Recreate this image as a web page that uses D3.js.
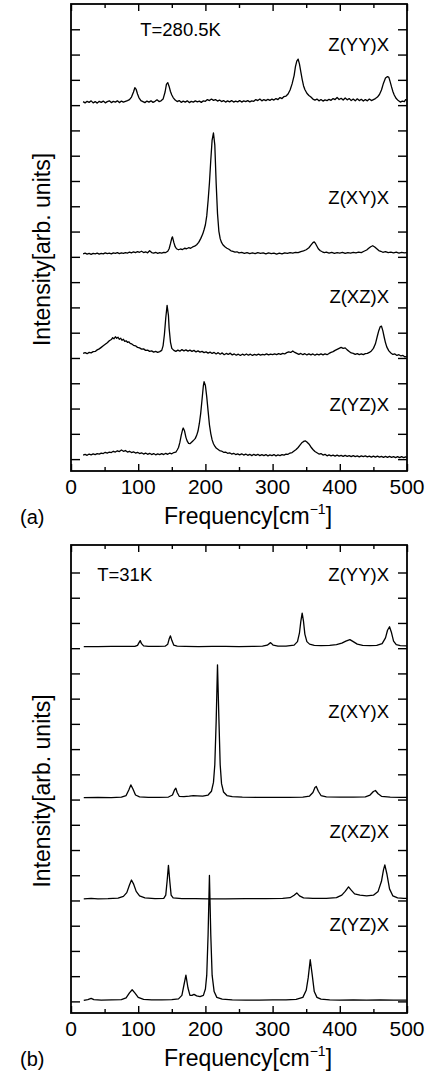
<!DOCTYPE html>
<html>
<head>
<meta charset="utf-8">
<script src="https://cdn.jsdelivr.net/npm/d3@7"></script>
<style>
  body { margin: 0; background: #fff; }
  text { font-family: "Liberation Sans", Arial, sans-serif; fill: #000; }
</style>
</head>
<body>
<svg id="chart" width="432" height="1076"></svg>
<script>
/* Polarisation labels, top to bottom */
const geometries = ['Z(YY)X', 'Z(XY)X', 'Z(XZ)X', 'Z(YZ)X'];
const temps = ['T=280.5K', 'T=31K'];
const panelTags = ['(a)', '(b)'];
const freqTicks = [0, 100, 200, 300, 400, 500];

/* Vertical shift of each trace, in tick units */
const offsets280 = [14.12, 8.12, 4.18, 0.16];
const offsets31 = [14.06, 8.08, 4.06, 0.04];

/* [frequency cm-1, intensity] (noisy) */
const yy280 = [[18,0.02],[21,-0.03],[24,0.03],[27,-0.01],[30,0.05],[33,-0.03],[36,0.02],[39,-0.04],[42,0.03],[45,-0.01],[48,0.04],[51,-0.03],[54,0.02],[57,0.05],[60,-0.02],[63,0.03],[66,0.0],[69,0.05],[72,-0.02],[75,0.04],[78,0.0],[81,0.03],[84,0.06],[87,0.1],[90,0.2],[93,0.4],[95,0.57],[97,0.5],[99,0.32],[101,0.18],[104,0.06],[107,0.02],[110,-0.02],[113,0.04],[116,0.0],[119,0.05],[122,-0.01],[125,0.03],[128,0.09],[131,0.02],[134,0.05],[137,0.12],[140,0.4],[142,0.7],[144,0.77],[146,0.62],[148,0.42],[150,0.28],[152,0.18],[155,0.08],[158,0.02],[161,0.06],[164,-0.01],[167,0.04],[170,0.0],[173,0.05],[176,-0.02],[179,0.03],[182,0.0],[185,0.05],[188,0.01],[191,0.04],[194,-0.01],[197,0.05],[200,0.03],[203,0.1],[206,0.06],[209,0.12],[212,0.07],[215,0.1],[218,0.04],[221,0.08],[224,0.02],[227,0.06],[230,0.0],[233,0.05],[236,0.01],[239,0.06],[242,0.0],[245,0.04],[248,0.01],[251,0.06],[254,0.0],[257,0.05],[260,0.02],[263,0.06],[266,0.01],[269,0.05],[272,0.03],[275,0.1],[278,0.06],[281,0.12],[284,0.05],[287,0.1],[290,0.06],[293,0.11],[296,0.07],[299,0.12],[302,0.08],[305,0.14],[308,0.1],[311,0.18],[314,0.14],[317,0.22],[320,0.24],[323,0.32],[326,0.48],[329,0.72],[332,1.05],[334,1.4],[336,1.62],[338,1.7],[340,1.5],[342,1.2],[344,0.9],[346,0.65],[348,0.5],[351,0.35],[354,0.26],[357,0.2],[360,0.12],[363,0.08],[366,0.12],[369,0.05],[372,0.1],[375,0.04],[378,0.09],[381,0.06],[384,0.11],[387,0.07],[390,0.14],[393,0.1],[396,0.18],[399,0.1],[402,0.15],[405,0.08],[408,0.16],[411,0.09],[414,0.14],[417,0.06],[420,0.12],[423,0.05],[426,0.13],[429,0.06],[432,0.11],[435,0.04],[438,0.1],[441,0.05],[444,0.12],[447,0.06],[450,0.1],[453,0.14],[456,0.2],[459,0.3],[462,0.48],[465,0.75],[468,0.95],[471,1.01],[473,0.98],[475,0.8],[477,0.6],[479,0.42],[481,0.28],[484,0.14],[487,0.06],[490,0.0],[493,0.04],[496,0.02],[498,0.1],[500,0.08]];
const xy280 = [[18,0.0],[21,0.03],[24,-0.01],[27,0.02],[30,-0.02],[33,0.02],[36,0.0],[39,0.03],[42,-0.01],[45,0.02],[48,0.0],[51,0.04],[54,0.01],[57,0.03],[60,0.0],[63,0.04],[66,0.02],[69,0.05],[72,0.01],[75,0.04],[78,0.02],[81,0.05],[84,0.03],[87,0.07],[90,0.04],[93,0.08],[96,0.05],[99,0.09],[102,0.06],[105,0.1],[108,0.05],[111,0.08],[114,0.04],[117,0.12],[120,0.05],[123,0.03],[126,0.06],[129,0.02],[132,0.05],[135,0.03],[138,0.06],[141,0.05],[144,0.1],[146,0.2],[148,0.4],[150,0.62],[151,0.67],[153,0.45],[155,0.28],[157,0.2],[160,0.16],[163,0.19],[166,0.17],[169,0.22],[172,0.2],[175,0.24],[178,0.22],[181,0.27],[184,0.3],[187,0.36],[190,0.45],[193,0.6],[196,0.78],[198,0.95],[200,1.15],[202,1.5],[204,2.1],[206,2.8],[208,3.7],[210,4.5],[212,4.78],[214,4.3],[216,2.8],[218,1.6],[220,0.9],[222,0.6],[224,0.45],[226,0.36],[229,0.28],[232,0.22],[235,0.18],[238,0.12],[241,0.1],[244,0.07],[247,0.08],[250,0.04],[254,0.06],[258,0.02],[262,0.05],[266,0.01],[270,0.04],[274,0.01],[278,0.05],[282,0.02],[286,0.04],[290,0.0],[294,0.04],[298,0.01],[302,0.03],[306,-0.01],[310,0.03],[314,0.0],[318,0.04],[322,0.02],[326,0.05],[330,0.03],[334,0.06],[338,0.05],[342,0.09],[346,0.12],[350,0.16],[354,0.24],[357,0.34],[360,0.44],[362,0.47],[364,0.4],[366,0.3],[368,0.2],[371,0.12],[374,0.08],[377,0.05],[380,0.07],[384,0.03],[388,0.06],[392,0.02],[396,0.05],[400,0.03],[404,0.06],[408,0.02],[412,0.05],[416,0.03],[420,0.06],[424,0.04],[428,0.07],[432,0.05],[436,0.1],[440,0.15],[443,0.22],[446,0.28],[449,0.32],[452,0.27],[455,0.2],[458,0.13],[461,0.1],[464,0.06],[468,0.09],[472,0.05],[476,0.07],[480,0.04],[484,0.07],[488,0.03],[492,0.06],[496,0.04],[500,0.05]];
const xz280 = [[18,0.0],[21,0.03],[24,-0.01],[27,0.04],[30,0.02],[33,0.07],[36,0.08],[39,0.14],[42,0.18],[45,0.24],[48,0.3],[51,0.36],[54,0.42],[57,0.5],[60,0.55],[62,0.62],[64,0.58],[66,0.66],[68,0.6],[70,0.64],[72,0.56],[74,0.6],[76,0.52],[78,0.56],[80,0.48],[82,0.5],[84,0.44],[86,0.46],[88,0.4],[90,0.38],[93,0.32],[96,0.3],[99,0.24],[102,0.22],[105,0.17],[108,0.18],[111,0.12],[114,0.13],[117,0.08],[120,0.1],[123,0.05],[126,0.08],[129,0.04],[132,0.07],[135,0.12],[137,0.3],[139,0.75],[141,1.4],[143,1.9],[145,1.5],[146,1.0],[148,0.45],[150,0.2],[153,0.12],[156,0.08],[159,0.13],[162,0.09],[165,0.15],[168,0.1],[171,0.14],[174,0.09],[177,0.13],[180,0.08],[183,0.12],[186,0.06],[189,0.1],[192,0.05],[195,0.08],[198,0.03],[201,0.06],[204,0.01],[207,0.05],[210,0.0],[213,0.04],[216,-0.02],[219,0.03],[222,-0.03],[225,0.02],[228,-0.05],[231,0.0],[234,-0.04],[237,0.01],[240,-0.06],[243,-0.02],[246,-0.07],[249,-0.03],[252,-0.08],[255,-0.03],[258,-0.07],[261,-0.02],[264,-0.07],[267,-0.03],[270,-0.08],[273,-0.04],[276,-0.07],[279,-0.03],[282,-0.07],[285,-0.04],[288,-0.06],[291,-0.02],[294,-0.06],[297,-0.03],[300,-0.05],[303,-0.02],[306,-0.05],[309,-0.01],[312,-0.04],[315,0.0],[318,-0.02],[321,0.03],[324,0.06],[327,0.04],[330,0.1],[333,0.04],[336,0.0],[339,-0.04],[342,0.0],[345,-0.05],[348,-0.01],[351,-0.06],[354,-0.02],[357,-0.06],[360,-0.02],[363,-0.07],[366,-0.03],[369,-0.06],[372,-0.02],[375,-0.06],[378,-0.02],[381,-0.05],[384,0.0],[387,0.04],[390,0.07],[393,0.12],[396,0.16],[399,0.2],[402,0.24],[405,0.2],[408,0.22],[411,0.14],[414,0.08],[417,0.02],[420,0.0],[423,-0.04],[426,-0.01],[429,-0.05],[432,-0.02],[435,-0.05],[438,-0.01],[441,0.0],[444,0.04],[447,0.1],[450,0.2],[453,0.38],[456,0.7],[458,0.9],[460,1.05],[462,1.08],[464,0.9],[466,0.65],[468,0.42],[470,0.25],[473,0.1],[476,0.02],[479,-0.04],[482,-0.02],[485,-0.08],[488,-0.05],[491,-0.1],[494,-0.08],[497,-0.14],[500,-0.12]];
const yz280 = [[18,0.0],[21,0.03],[24,-0.01],[27,0.04],[30,0.01],[33,0.05],[36,0.02],[39,0.06],[42,0.04],[45,0.08],[48,0.06],[51,0.11],[54,0.08],[57,0.12],[60,0.1],[63,0.15],[66,0.12],[69,0.17],[72,0.14],[75,0.2],[78,0.15],[81,0.18],[84,0.12],[87,0.15],[90,0.1],[93,0.13],[96,0.08],[99,0.11],[102,0.06],[105,0.09],[108,0.04],[111,0.08],[114,0.03],[117,0.07],[120,0.02],[123,0.06],[126,0.01],[129,0.05],[132,0.02],[135,0.06],[138,0.02],[141,0.07],[144,0.03],[147,0.08],[150,0.05],[153,0.1],[156,0.12],[158,0.2],[160,0.3],[162,0.5],[164,0.78],[166,1.0],[167,1.07],[169,0.95],[171,0.7],[173,0.55],[175,0.46],[177,0.45],[179,0.5],[181,0.55],[183,0.6],[185,0.66],[187,0.78],[189,0.95],[191,1.25],[193,1.65],[195,2.2],[197,2.75],[198,2.9],[200,2.75],[202,2.3],[204,1.75],[206,1.2],[208,0.85],[210,0.6],[212,0.45],[214,0.35],[216,0.28],[218,0.24],[221,0.18],[224,0.16],[227,0.11],[230,0.12],[233,0.07],[236,0.09],[239,0.04],[242,0.07],[245,0.02],[248,0.05],[251,0.01],[254,0.05],[257,0.0],[260,0.04],[263,-0.01],[266,0.03],[269,-0.02],[272,0.03],[275,-0.01],[278,0.03],[281,-0.02],[284,0.02],[287,-0.02],[290,0.02],[293,-0.03],[296,0.01],[299,-0.02],[302,0.02],[305,-0.03],[308,0.01],[311,-0.02],[314,0.02],[317,0.0],[320,0.04],[323,0.03],[326,0.08],[329,0.1],[332,0.16],[335,0.22],[338,0.3],[341,0.4],[344,0.5],[347,0.55],[349,0.56],[351,0.52],[354,0.44],[357,0.32],[360,0.22],[363,0.14],[366,0.09],[369,0.04],[372,0.06],[375,0.0],[378,0.03],[381,-0.03],[384,0.01],[387,-0.03],[390,0.0],[393,-0.04],[396,0.0],[399,-0.04],[402,-0.01],[405,-0.05],[408,-0.01],[411,-0.05],[414,-0.02],[417,-0.06],[420,-0.02],[423,-0.06],[426,-0.03],[429,-0.07],[432,-0.03],[435,-0.06],[438,-0.03],[441,-0.07],[444,-0.04],[447,-0.08],[450,-0.04],[453,-0.08],[456,-0.04],[459,-0.08],[462,-0.05],[465,-0.09],[468,-0.05],[471,-0.09],[474,-0.05],[477,-0.09],[480,-0.06],[483,-0.1],[486,-0.06],[489,-0.1],[492,-0.06],[495,-0.1],[498,-0.07],[500,-0.09]];

/* [frequency cm-1, intensity] */
const yy31 = [[19,0],[40,0],[60,0.01],[80,0.01],[95,0.01],[99,0.05],[101,0.15],[103,0.24],[105,0.12],[108,0.03],[115,0.01],[130,0.01],[140,0.02],[144,0.1],[146,0.3],[148,0.43],[150,0.25],[153,0.06],[158,0.02],[170,0.01],[190,0.0],[210,0.01],[230,0.01],[250,0.0],[270,0.01],[285,0.02],[292,0.06],[297,0.16],[301,0.06],[308,0.02],[320,0.02],[332,0.06],[337,0.2],[340,0.55],[342,1.0],[344,1.33],[346,1.0],[348,0.5],[351,0.2],[355,0.1],[362,0.05],[372,0.04],[385,0.05],[395,0.08],[403,0.14],[409,0.22],[415,0.28],[420,0.2],[426,0.1],[434,0.05],[445,0.04],[455,0.05],[463,0.12],[468,0.35],[471,0.65],[474,0.79],[477,0.55],[480,0.22],[484,0.08],[490,0.04],[500,0.03]];
const xy31 = [[19,0],[40,0.01],[60,0.0],[75,0.02],[82,0.08],[86,0.3],[89,0.5],[92,0.35],[96,0.1],[102,0.03],[115,0.01],[130,0.01],[145,0.02],[151,0.1],[154,0.3],[156,0.37],[158,0.2],[161,0.05],[168,0.04],[176,0.06],[182,0.08],[188,0.07],[196,0.06],[204,0.1],[209,0.25],[212,0.6],[214,1.3],[216,3.0],[218,5.26],[220,3.2],[222,1.3],[224,0.55],[227,0.22],[232,0.08],[240,0.04],[255,0.02],[275,0.01],[300,0.01],[325,0.01],[345,0.02],[355,0.06],[360,0.2],[363,0.4],[365,0.44],[368,0.25],[372,0.08],[380,0.03],[400,0.02],[420,0.02],[438,0.03],[445,0.1],[450,0.24],[453,0.28],[457,0.15],[462,0.05],[475,0.02],[490,0.01],[500,0.01]];
const xz31 = [[19,0],[30,0.02],[40,0.0],[55,0.01],[70,0.03],[78,0.1],[83,0.25],[87,0.55],[90,0.75],[93,0.6],[97,0.3],[102,0.12],[110,0.04],[125,0.01],[138,0.02],[141,0.15],[143,0.7],[145,1.33],[147,0.7],[149,0.15],[152,0.04],[165,0.01],[185,0.01],[205,0.0],[230,0.0],[260,0.01],[290,0.01],[315,0.02],[326,0.05],[332,0.15],[336,0.24],[340,0.12],[346,0.04],[360,0.02],[380,0.02],[395,0.05],[403,0.15],[408,0.3],[413,0.48],[417,0.35],[422,0.2],[430,0.15],[440,0.12],[450,0.15],[457,0.3],[462,0.7],[465,1.15],[467,1.35],[470,1.0],[474,0.4],[479,0.12],[486,0.04],[495,0.02],[500,0.02]];
const yz31 = [[19,0],[25,0.03],[30,0.08],[34,0.03],[45,0.01],[60,0.02],[75,0.03],[82,0.1],[87,0.3],[91,0.42],[95,0.3],[100,0.12],[108,0.04],[120,0.02],[135,0.02],[150,0.03],[160,0.06],[165,0.2],[168,0.6],[171,1.0],[174,0.5],[177,0.2],[180,0.2],[183,0.24],[187,0.18],[192,0.15],[197,0.2],[200,0.45],[202,1.0],[204,2.6],[206,4.95],[208,2.6],[210,1.0],[213,0.35],[217,0.12],[225,0.05],[240,0.02],[260,0.01],[280,0.01],[300,0.02],[320,0.02],[335,0.04],[345,0.12],[350,0.4],[353,0.9],[356,1.61],[359,1.0],[362,0.35],[366,0.12],[372,0.05],[385,0.02],[400,0.01],[420,0.02],[440,0.01],[460,0.02],[480,0.01],[500,0.01]];

/* Layout */
const left = 71, right = 407;
const panels = [
  { top: 4, bottom: 471, yDomain: [-0.47, 18], traces: [yy280, xy280, xz280, yz280], offsets: offsets280,
    tempPos: [103, 16.72], labelY: [16.13, 10.08, 6.17, 1.9] },
  { top: 545, bottom: 1013, yDomain: [-0.46, 18.09], traces: [yy31, xy31, xz31, yz31], offsets: offsets31,
    tempPos: [39, 16.66], labelY: [16.66, 11.24, 6.48, 2.8] },
];

const svg = d3.select('#chart');

panels.forEach((p, pi) => {
  const x = d3.scaleLinear().domain([0, 500]).range([left, right]);
  const y = d3.scaleLinear().domain(p.yDomain).range([p.bottom, p.top]);
  const g = svg.append('g');

  /* Spectra */
  const line = d3.line().x(d => x(d[0])).y(d => y(d[1]));
  p.traces.forEach((tr, i) => {
    g.append('path')
      .datum(tr.map(d => [d[0], d[1] + p.offsets[i]]))
      .attr('d', line)
      .attr('fill', 'none')
      .attr('stroke', '#000')
      .attr('stroke-width', 1.3)
      .attr('stroke-linejoin', 'round');
  });

  /* Inward ticks on all four sides */
  const yTicks = d3.range(0, 18);
  const minorX = d3.range(50, 500, 100);
  g.append('g').attr('transform', `translate(${left},0)`)
    .call(d3.axisRight(y).tickValues(yTicks).tickSize(9).tickFormat(''));
  g.append('g').attr('transform', `translate(${right},0)`)
    .call(d3.axisLeft(y).tickValues(yTicks).tickSize(9).tickFormat(''));
  [[p.bottom, d3.axisTop], [p.top, d3.axisBottom]].forEach(([yy, ax]) => {
    g.append('g').attr('transform', `translate(0,${yy})`)
      .call(ax(x).tickValues(freqTicks).tickSize(7).tickFormat(''));
    g.append('g').attr('transform', `translate(0,${yy})`)
      .call(ax(x).tickValues(minorX).tickSize(4).tickFormat(''));
  });
  g.selectAll('.domain').remove();
  g.selectAll('.tick line').attr('stroke', '#000').attr('stroke-width', 1.4);

  /* Frame */
  g.append('rect')
    .attr('x', left).attr('y', p.top)
    .attr('width', right - left).attr('height', p.bottom - p.top)
    .attr('fill', 'none').attr('stroke', '#000').attr('stroke-width', 1.8);

  /* Frequency tick labels */
  g.selectAll('text.tl').data(freqTicks).enter().append('text')
    .attr('class', 'tl')
    .attr('x', d => x(d)).attr('y', p.bottom + 23)
    .attr('text-anchor', 'middle')
    .attr('font-size', 21)
    .text(d => d);

  /* Axis titles */
  const xt = g.append('text')
    .attr('x', (left + right) / 2 + 9).attr('y', p.bottom + 53)
    .attr('text-anchor', 'middle').attr('font-size', 23);
  xt.append('tspan').text('Frequency[cm');
  xt.append('tspan').attr('font-size', 14).attr('dy', -10).text('\u22121');
  xt.append('tspan').attr('dy', 10).text(']');

  g.append('text')
    .attr('transform', `translate(50,${(p.top + p.bottom) / 2 + 12}) rotate(-90)`)
    .attr('text-anchor', 'middle').attr('font-size', 23)
    .text('Intensity[arb. units]');

  g.append('text')
    .attr('x', 20).attr('y', p.bottom + 53)
    .attr('font-size', 20)
    .text(panelTags[pi]);

  /* In-plot annotations */
  g.append('text')
    .attr('x', x(p.tempPos[0])).attr('y', y(p.tempPos[1]))
    .attr('font-size', 18.5)
    .text(temps[pi]);
  geometries.forEach((lab, i) => {
    g.append('text')
      .attr('x', 389).attr('y', y(p.labelY[i]))
      .attr('text-anchor', 'end')
      .attr('font-size', 18.5)
      .text(lab);
  });
});
</script>
</body>
</html>
